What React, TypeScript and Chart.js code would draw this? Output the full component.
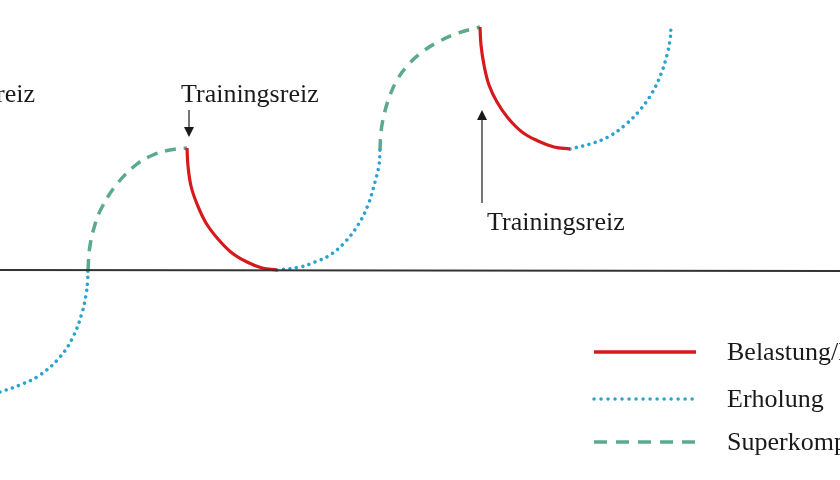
import { useEffect, useRef } from 'react';
import Chart from 'chart.js/auto';

type Pt = { x: number; y: number | null };

// Zeit (x) und Leistungsniveau (y, 0 = Ausgangsniveau)
const erholung: Pt[][] = [
  [{ x: 0, y: -122 }, { x: 20, y: -115 }, { x: 40, y: -105 }, { x: 60, y: -87 }, { x: 73, y: -67 }, { x: 82, y: -43 }, { x: 86, y: -25 }, { x: 87.6, y: -11 }, { x: 88, y: 0 }],
  [{ x: 277, y: 0 }, { x: 300, y: 3 }, { x: 315, y: 8 }, { x: 330, y: 15 }, { x: 345, y: 28 }, { x: 358, y: 45 }, { x: 368, y: 65 }, { x: 375, y: 88 }, { x: 379, y: 105 }, { x: 380, y: 120 }],
  [{ x: 570, y: 121 }, { x: 590, y: 126 }, { x: 608, y: 133 }, { x: 625, y: 145 }, { x: 640, y: 160 }, { x: 652, y: 177 }, { x: 661, y: 196 }, { x: 667, y: 215 }, { x: 670, y: 230 }, { x: 671, y: 243 }],
];
const superkompensation: Pt[][] = [
  [{ x: 88, y: 0 }, { x: 89.5, y: 21 }, { x: 94, y: 42 }, { x: 101, y: 61 }, { x: 117, y: 86 }, { x: 137, y: 106 }, { x: 153, y: 115 }, { x: 170, y: 120 }, { x: 187, y: 122 }],
  [{ x: 380, y: 120 }, { x: 381, y: 138 }, { x: 384, y: 155 }, { x: 389, y: 172 }, { x: 397, y: 190 }, { x: 408, y: 205 }, { x: 422, y: 218 }, { x: 438, y: 228 }, { x: 458, y: 237 }, { x: 480, y: 243 }],
];
const belastung: Pt[][] = [
  [{ x: 187, y: 122 }, { x: 188, y: 104 }, { x: 191, y: 84 }, { x: 197, y: 66 }, { x: 206, y: 47 }, { x: 218, y: 31 }, { x: 232, y: 17 }, { x: 247, y: 8 }, { x: 262, y: 2 }, { x: 277, y: 0 }],
  [{ x: 480, y: 243 }, { x: 481, y: 225 }, { x: 484, y: 205 }, { x: 489, y: 185 }, { x: 497, y: 168 }, { x: 508, y: 152 }, { x: 522, y: 138 }, { x: 538, y: 129 }, { x: 554, y: 123 }, { x: 570, y: 121 }],
];
const ausgangsniveau: Pt[] = [{ x: 0, y: 0 }, { x: 840, y: -1 }];

const legendLabels = ['Belastung/Ermüdung', 'Erholung', 'Superkompensation'];

// Trainingsreiz-Beschriftungen: Textanker und Pfeil (von -> bis) in Datenkoordinaten
const reizLabels = ['Trainingsreiz', 'Trainingsreiz', 'Trainingsreiz'];
const reizTextX = [35, 181, 487];
const reizTextY = [168, 168, 40];
const reizAlign: CanvasTextAlign[] = ['right', 'left', 'left'];
const reizArrowX = [null, 189, 482];
const reizArrowFrom = [null, 160, 67];
const reizArrowTo = [null, 133, 160];

const RED = '#d7191c';
const BLUE = '#29a3d1';
const GREEN = '#5bab8a';
const FONT = '26px "Liberation Serif", "DejaVu Serif", serif';

function join(segs: Pt[][]): Pt[] {
  const out: Pt[] = [];
  segs.forEach((s, i) => {
    if (i > 0) out.push({ x: s[0].x - 0.01, y: null });
    out.push(...s);
  });
  return out;
}

const annotations = {
  id: 'annotations',
  afterDraw(chart: any) {
    const { ctx } = chart;
    const xs = chart.scales.x;
    const ys = chart.scales.y;
    ctx.save();
    ctx.font = FONT;
    ctx.fillStyle = '#1a1a1a';
    ctx.textBaseline = 'alphabetic';
    reizLabels.forEach((t, i) => {
      ctx.textAlign = reizAlign[i];
      ctx.fillText(t, xs.getPixelForValue(reizTextX[i]), ys.getPixelForValue(reizTextY[i]));
      const ax = reizArrowX[i];
      if (ax == null) return;
      const px = xs.getPixelForValue(ax);
      const y0 = ys.getPixelForValue(reizArrowFrom[i] as number);
      const y1 = ys.getPixelForValue(reizArrowTo[i] as number);
      const dir = y1 > y0 ? 1 : -1;
      ctx.strokeStyle = '#1a1a1a';
      ctx.lineWidth = 1.2;
      ctx.beginPath();
      ctx.moveTo(px, y0);
      ctx.lineTo(px, y1 - dir * 8);
      ctx.stroke();
      ctx.beginPath();
      ctx.moveTo(px, y1);
      ctx.lineTo(px - 5, y1 - dir * 10);
      ctx.lineTo(px + 5, y1 - dir * 10);
      ctx.closePath();
      ctx.fill();
    });

    // Legende
    const rows = [352, 399, 442];
    const styles = [
      { c: RED, d: [] as number[], cap: 'butt' as CanvasLineCap, w: 3.5 },
      { c: BLUE, d: [0.01, 7], cap: 'round' as CanvasLineCap, w: 3.5 },
      { c: GREEN, d: [13, 9], cap: 'butt' as CanvasLineCap, w: 3.5 },
    ];
    legendLabels.forEach((t, i) => {
      const s = styles[i];
      ctx.strokeStyle = s.c;
      ctx.lineWidth = s.w;
      ctx.lineCap = s.cap;
      ctx.setLineDash(s.d);
      ctx.beginPath();
      ctx.moveTo(594, rows[i]);
      ctx.lineTo(696, rows[i]);
      ctx.stroke();
      ctx.setLineDash([]);
      ctx.textAlign = 'left';
      ctx.fillText(t, 727, rows[i] + 8);
    });
    ctx.restore();
  },
};

export default function App() {
  const ref = useRef<HTMLCanvasElement | null>(null);

  useEffect(() => {
    document.body.style.margin = '0';
    if (!ref.current) return;
    const chart = new Chart(ref.current, {
      type: 'line',
      data: {
        datasets: [
          {
            label: 'Ausgangsniveau',
            data: ausgangsniveau as any,
            borderColor: '#333333',
            borderWidth: 1.8,
            pointRadius: 0,
          },
          {
            label: legendLabels[0],
            data: join(belastung) as any,
            borderColor: RED,
            borderWidth: 3.2,
            pointRadius: 0,
            tension: 0.4,
          },
          {
            label: legendLabels[1],
            data: join(erholung) as any,
            borderColor: BLUE,
            borderWidth: 3.5,
            borderDash: [0.01, 6.5],
            borderCapStyle: 'round',
            pointRadius: 0,
            tension: 0.4,
          },
          {
            label: legendLabels[2],
            data: join(superkompensation) as any,
            borderColor: GREEN,
            borderWidth: 3.5,
            borderDash: [11, 8],
            pointRadius: 0,
            tension: 0.4,
          },
        ],
      },
      options: {
        responsive: false,
        animation: false,
        spanGaps: false,
        layout: { padding: 0 },
        scales: {
          x: { type: 'linear', min: 0, max: 840, display: false },
          y: { type: 'linear', min: -210, max: 270, display: false },
        },
        plugins: { legend: { display: false }, tooltip: { enabled: false } },
      },
      plugins: [annotations],
    });
    return () => chart.destroy();
  }, []);

  return (
    <div style={{ width: 840, height: 480, background: '#fff' }}>
      <canvas ref={ref} width={840} height={480} />
    </div>
  );
}
